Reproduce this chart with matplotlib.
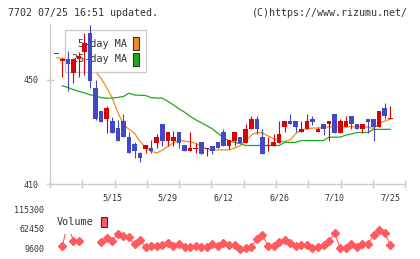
import matplotlib
matplotlib.use('Agg')
import matplotlib.pyplot as plt
import numpy as np
from matplotlib.patches import Rectangle

plt.rcParams['font.family'] = ['DejaVu Sans Mono']

# daily candles, 4/23 .. 7/25
opens = [459.9, 457.1, 458.1, 452.8, 457.9, 460.9, 467.9, 446.8, 438.2, 434.9,
         434.2, 431.4, 434.2, 428.2, 425.3, 422.1, 423.5, 423.7, 425.9, 433.1,
         426.7, 426.7, 429.9, 425.0, 422.8, 423.5, 426.0, 423.6, 424.7, 426.0,
         429.9, 424.7, 426.7, 427.9, 425.9, 431.0, 434.9, 427.9, 424.6, 424.7,
         425.9, 431.8, 434.4, 434.4, 429.9, 431.0, 435.0, 429.9, 433.1, 433.0,
         436.9, 429.7, 431.8, 436.2, 433.1, 431.0, 435.0, 434.9, 431.8, 439.1,
         434.8]
highs = [460.0, 458.3, 461.2, 458.5, 460.9, 467.9, 471.2, 450.0, 438.2, 440.0,
         435.9, 434.6, 436.8, 430.1, 426.3, 422.4, 425.0, 426.9, 429.2, 433.1,
         429.9, 430.5, 429.9, 425.0, 429.9, 425.6, 426.0, 423.7, 424.7, 426.0,
         431.0, 426.9, 429.9, 427.9, 433.1, 436.2, 436.2, 431.0, 427.9, 429.2,
         434.4, 434.4, 436.9, 434.4, 434.4, 436.9, 436.2, 431.8, 433.1, 434.4,
         436.9, 434.9, 436.2, 436.2, 433.1, 433.1, 435.0, 434.9, 438.1, 441.3,
         440.0]
lows = [459.9, 451.0, 445.9, 449.0, 451.0, 451.9, 446.8, 434.5, 434.0, 429.7,
        429.7, 426.7, 428.0, 421.8, 419.9, 418.6, 421.8, 422.0, 423.7, 424.7,
        424.7, 424.7, 423.7, 422.8, 422.8, 421.8, 421.5, 420.8, 421.5, 423.7,
        424.7, 423.4, 424.7, 425.6, 425.9, 431.0, 429.2, 421.5, 422.8, 424.7,
        425.9, 429.9, 433.0, 429.9, 429.9, 431.0, 432.7, 429.9, 428.8, 426.7,
        429.7, 429.7, 431.8, 431.0, 431.0, 429.7, 429.7, 426.7, 431.8, 434.9,
        434.8]
closes = [460.0, 458.1, 456.0, 458.1, 459.2, 464.1, 449.7, 434.9, 434.0, 439.1,
          429.7, 426.7, 428.0, 421.8, 422.7, 419.9, 425.0, 422.8, 427.9, 426.7,
          429.9, 427.9, 425.9, 422.8, 423.7, 423.7, 421.5, 423.7, 422.8, 423.7,
          424.7, 426.9, 429.9, 425.9, 431.2, 434.9, 431.0, 421.5, 424.8, 426.0,
          429.2, 434.4, 433.0, 431.8, 431.0, 434.4, 434.0, 431.0, 431.0, 434.4,
          429.7, 434.4, 434.4, 433.0, 431.0, 433.1, 434.0, 431.8, 438.1, 436.2,
          435.0]

ma5 = [458.5, 458.3, 458.2, 458.3, 458.3, 459.1, 457.4, 453.2, 450.6, 447.0,
       443.0, 437.5, 433.0, 431.0, 429.5, 426.3, 424.0, 422.5, 422.0, 423.0,
       424.5, 425.8, 426.9, 426.5, 426.2, 425.7, 424.5, 423.5, 423.1, 423.1,
       423.1, 423.1, 423.8, 424.7, 426.7, 428.8, 429.8, 429.6, 428.5, 427.5,
       426.6, 426.3, 427.0, 429.3, 430.8, 431.2, 431.5, 431.5, 431.7, 432.0,
       432.0, 432.0, 432.0, 432.0, 432.0, 432.0, 431.8, 431.4, 433.2, 434.2,
       434.9]
ma25 = [np.nan, 447.8, 447.1, 446.3, 445.6, 445.0, 444.3, 443.8, 443.2, 443.0,
        443.0, 443.3, 443.6, 444.9, 444.2, 444.1, 444.0, 443.2, 443.0, 443.0,
        441.8, 440.4, 438.9, 437.6, 436.0, 434.7, 433.6, 432.4, 431.2, 429.5,
        427.7, 426.6, 426.0, 425.5, 424.8, 424.8, 424.8, 424.8, 424.8, 424.8,
        424.8, 426.0, 426.0, 426.0, 426.7, 426.7, 426.7, 426.7, 426.7, 428.0,
        428.0, 428.0, 428.8, 429.2, 429.8, 429.8, 429.8, 431.0, 431.0, 431.0,
        431.0]
volume = [np.nan, 16400, 75000, 30700, 30700, np.nan, np.nan, np.nan, 28000, 37200,
          30700, 48900, 43500, 39900, 21800, 32600, 12800, 16400, 16400, 19100,
          23700, 16400, 21800, 12800, 12800, 16400, 12800, 12800, 21800, 16400,
          23700, 19100, 19100, 7400, 10100, 14500, 34500, 46200, 16400, 16400,
          26400, 32600, 23700, 16400, 19100, 19100, 10100, 12800, 19100, 30700,
          50800, 10100, 10100, 21800, 14500, 21800, 21800, 46200, 59700, 52400,
          19100]

label_pos = [10, 20, 30, 40, 50, 60]
date_labels = ['5/15', '5/29', '6/12', '6/26', '7/10', '7/25']
vol_ticks = [9600, 62450, 115300]

RED = '#dd0000'
BLUE = '#4048c8'
ORANGE = '#f08c1e'
GREEN = '#1aab1a'
VOLC = '#ff5a60'
GRID = '#cccccc'
TXT = '#333333'

o = np.array(opens); c = np.array(closes)
x = np.arange(len(o))
cols = [RED if cc >= oo else BLUE for oo, cc in zip(o, c)]

fig = plt.figure(figsize=(4.2, 2.59), dpi=100)
ax = fig.add_axes([50/420, 1-184/259, 355.3/420, 160/259])
axv = fig.add_axes([50/420, 1-254/259, 355.3/420, 51/259])

ax.plot(x, ma5, color=ORANGE, lw=0.9, zorder=2)
ax.plot(x, ma25, color=GREEN, lw=0.9, zorder=2)
ax.vlines(x, lows, highs, colors=cols, lw=0.8, zorder=5)
ax.bar(x, np.maximum(np.abs(c - o), 0.4), 0.82, bottom=np.minimum(o, c),
       color=cols, lw=0, zorder=5)

hs = [Rectangle((0, 0), 1, 1, fc=ORANGE, ec='#333333', lw=0.8),
      Rectangle((0, 0), 1, 1, fc=GREEN, ec='#333333', lw=0.8)]
leg = ax.legend(hs, ['5-day MA', '25-day MA'], loc='upper left',
                bbox_to_anchor=(0.042, 0.96), borderaxespad=0, markerfirst=False,
                handlelength=0.6, handleheight=1.6, handletextpad=0.65,
                labelspacing=0.25, borderpad=0.65, fancybox=False, edgecolor=GRID,
                framealpha=1, prop={'size': 7.3})
leg.set_zorder(4)
leg.get_frame().set_linewidth(1.0)
for t in leg.get_texts():
    t.set_color(TXT)

ax.set_xlim(-1.2, 62.7)
ax.set_ylim(410, 471.5)
ax.set_yticks([410, 450])
ax.set_xticks(label_pos)
ax.set_xticklabels(date_labels)
ax.set_xticks(np.linspace(-1.2, 62.7, 12), minor=True)
ax.tick_params(axis='x', which='major', length=0, pad=7, labelsize=6, labelcolor=TXT)
ax.tick_params(axis='x', which='minor', length=6, direction='inout', color=GRID, width=1)
ax.tick_params(axis='y', length=6, direction='inout', color=GRID, width=1,
               pad=5.2, labelsize=6, labelcolor=TXT)
for s in ['top', 'right']:
    ax.spines[s].set_visible(False)
for s in ['left', 'bottom']:
    ax.spines[s].set_color(GRID)
    ax.spines[s].set_linewidth(1)

axv.plot(x, volume, color=VOLC, lw=0.8, marker='D', ms=3.8, mec=VOLC, mfc=VOLC, zorder=2)
vh = [Rectangle((0, 0), 1, 1, fc=VOLC, ec='#333333', lw=0.8)]
vleg = axv.legend(vh, ['Volume'], loc='upper left', bbox_to_anchor=(0.0, 0.87),
                  borderaxespad=0, markerfirst=False, handlelength=0.6,
                  handleheight=1.15, handletextpad=0.7, borderpad=0.7,
                  fancybox=False, edgecolor='none', framealpha=1,
                  prop={'size': 7.3})
vleg.set_zorder(5)
vleg.get_texts()[0].set_color(TXT)
axv.set_xlim(-1.2, 62.7)
axv.set_ylim(-5300, 132900)
axv.set_yticks(vol_ticks)
axv.set_xticks([])
axv.tick_params(axis='y', length=0, pad=4, labelsize=6, labelcolor=TXT)
for s in axv.spines.values():
    s.set_visible(False)
axv.patch.set_alpha(0)

fig.text(8/420, 1-13/259, '7702 07/25 16:51 updated.', ha='left', va='center',
         fontsize=7.2, color=TXT)
fig.text(408/420, 1-13/259, '(C)https://www.rizumu.net/', ha='right', va='center',
         fontsize=7.2, color=TXT)

fig.savefig('out.png', dpi=100)
